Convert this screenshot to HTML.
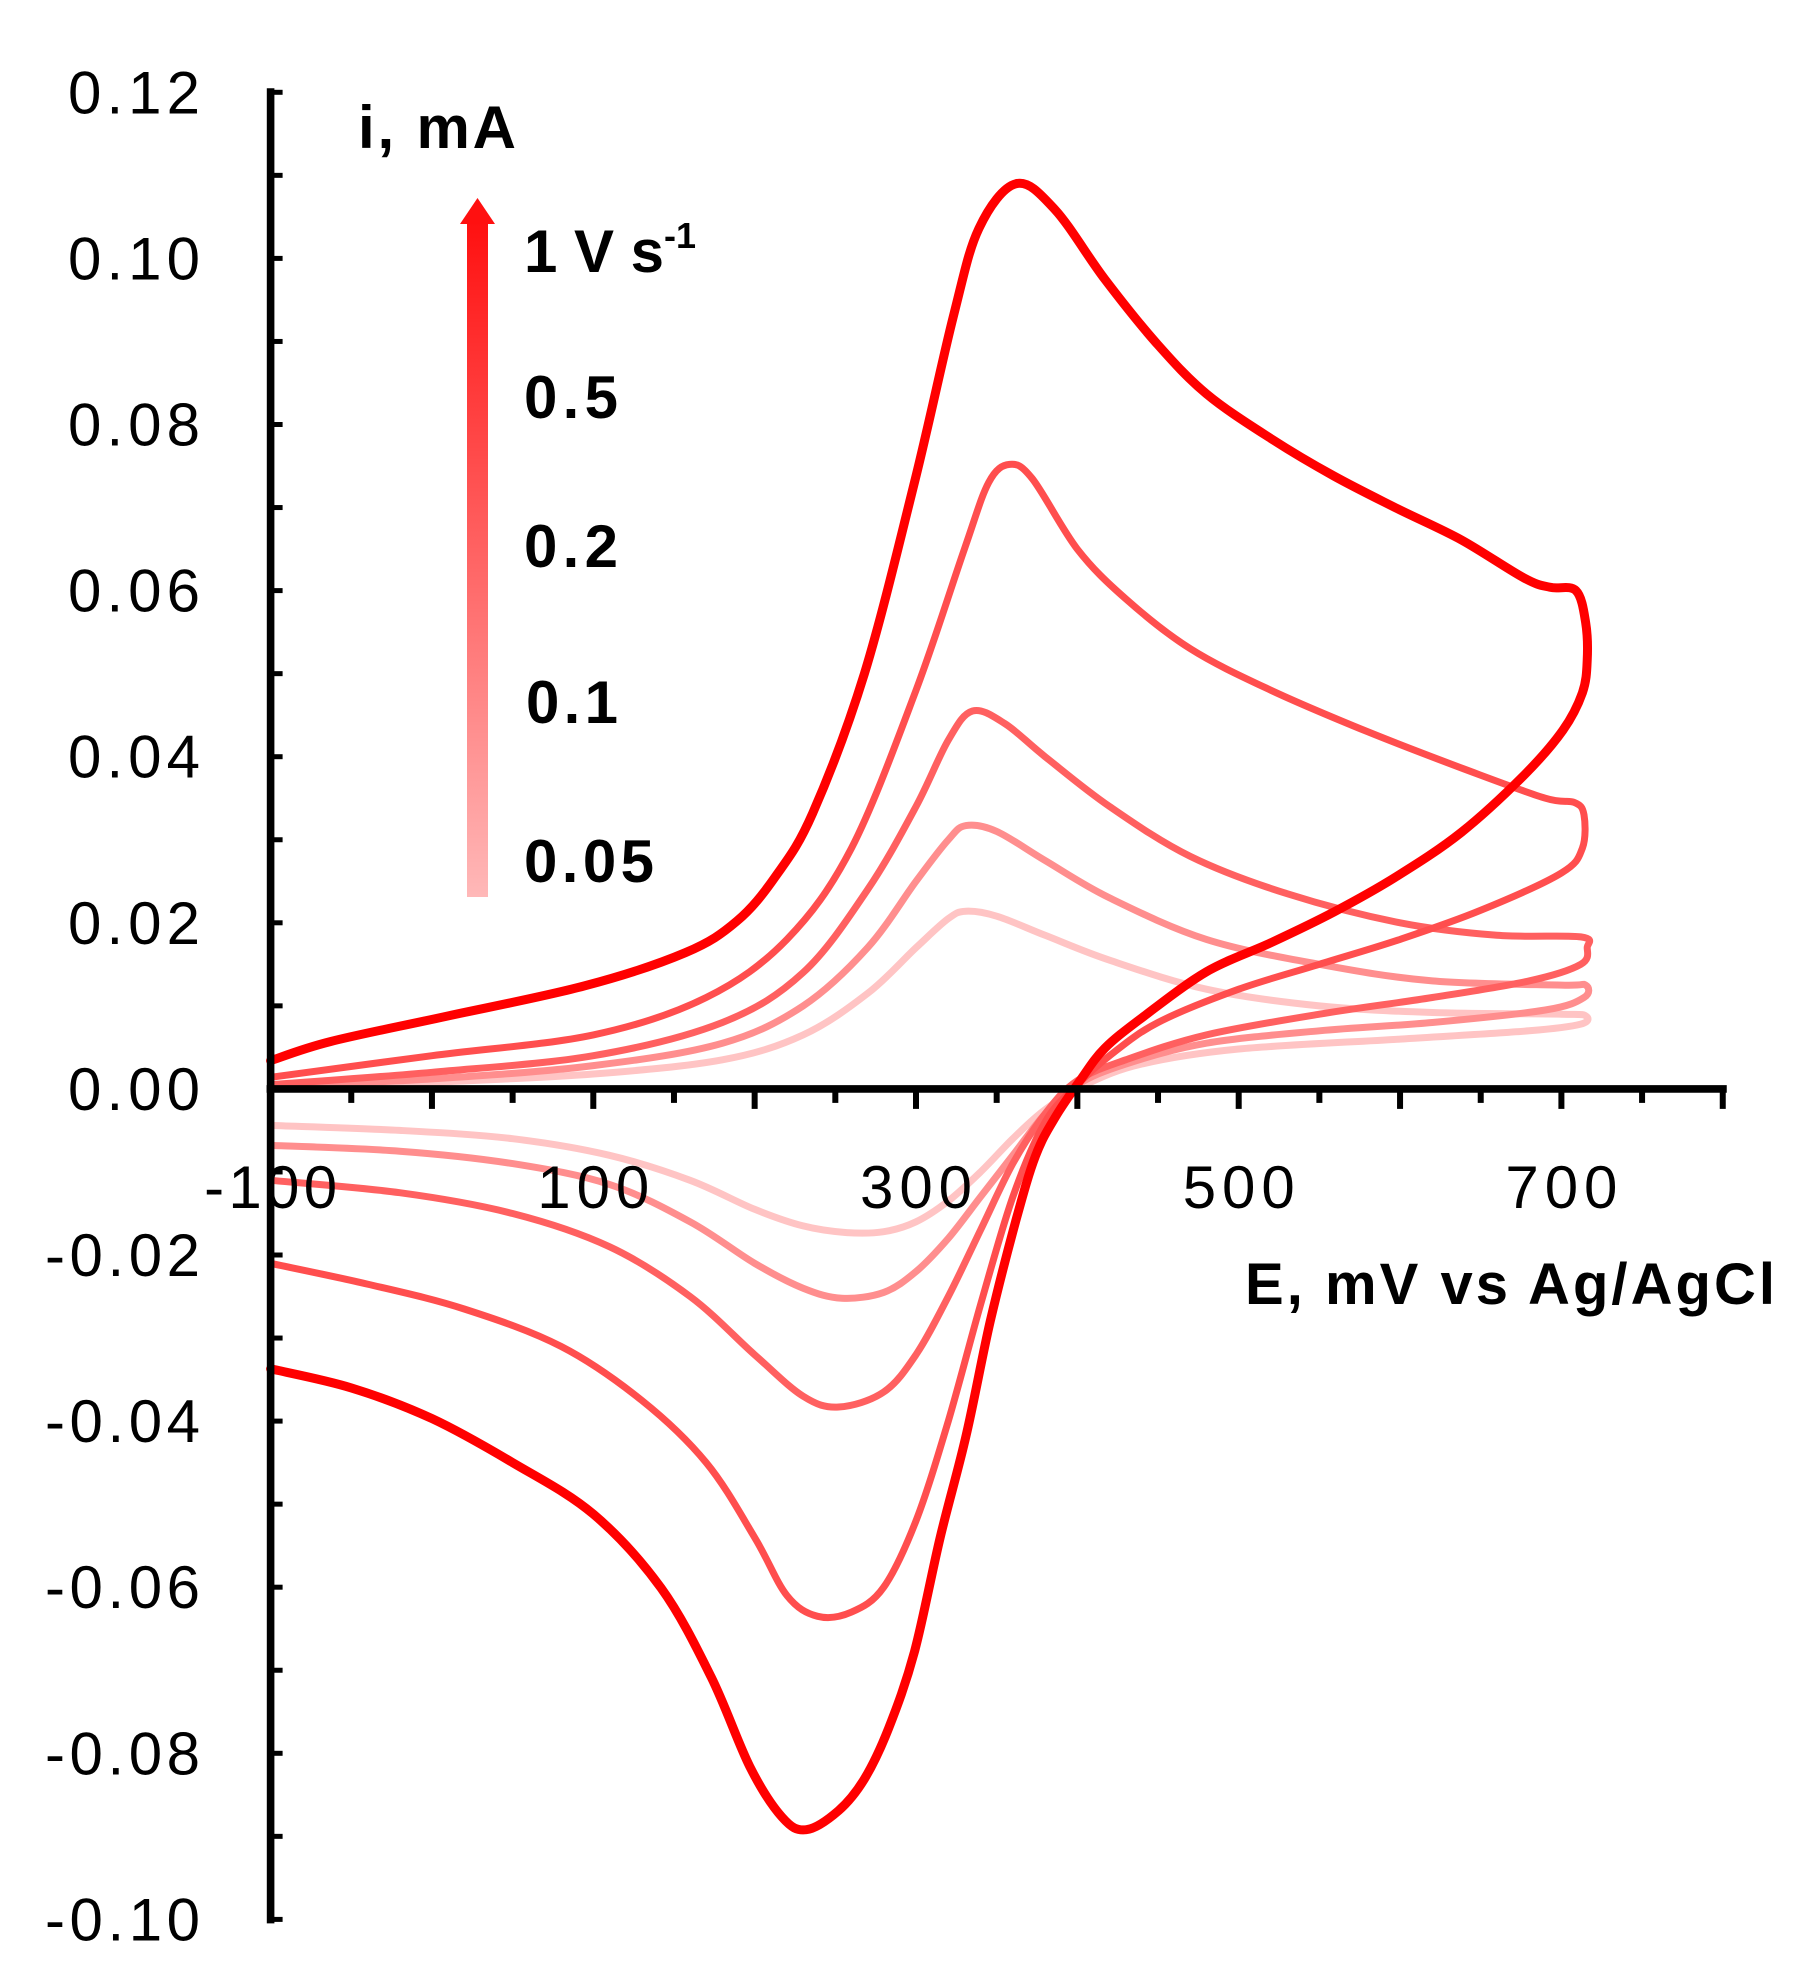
<!DOCTYPE html>
<html><head><meta charset="utf-8"><style>
html,body{margin:0;padding:0;background:#fff}
svg{display:block}
text{font-family:"Liberation Sans",sans-serif}
</style></head><body>
<svg id="chart" width="1794" height="1982" viewBox="0 0 1794 1982">
<defs>
<linearGradient id="arrowGrad" x1="0" y1="1" x2="0" y2="0">
<stop offset="0" stop-color="#ffb8b8"/><stop offset="1" stop-color="#ff1010"/>
</linearGradient>
</defs>
<g id="curves"></g>
<g id="axes"></g>
<g>
<rect x="467" y="220" width="21" height="677" fill="url(#arrowGrad)"/>
<polygon points="460,224 495,224 477.5,198" fill="#ff1010"/>
<text x="358" y="148" font-size="60" font-weight="bold" textLength="158">i, mA</text>
<text x="524" y="272" font-size="60" font-weight="bold"><tspan textLength="140">1 V s</tspan><tspan dy="-24" font-size="36">-1</tspan></text>
<text x="524" y="418" font-size="60" font-weight="bold" textLength="94">0.5</text>
<text x="524" y="567" font-size="60" font-weight="bold" textLength="94">0.2</text>
<text x="526" y="723" font-size="60" font-weight="bold" textLength="92">0.1</text>
<text x="524" y="882" font-size="60" font-weight="bold" textLength="130">0.05</text>
</g>
<text x="1245" y="1304" font-size="58" font-weight="bold" textLength="530">E, mV vs Ag/AgCl</text>
</svg>
<script>
const xTicks = [-100, 100, 300, 500, 700];
const yTicks = [0.12, 0.10, 0.08, 0.06, 0.04, 0.02, 0.00, -0.02, -0.04, -0.06, -0.08, -0.10];
const seriesNames = ["1 V/s", "0.5 V/s", "0.2 V/s", "0.1 V/s", "0.05 V/s"];
const E_1 = [-100,-63,8,94.5,157,189,213,236,268,299,323,339,362,386,417,449,480,520,559,598,638,677,693,709,715,716,713,701,677,638,598,559,520,480,441,417,402,386,374,362,346,331,315,299,283,268,252,232,217,197,173,142,100,50,0,-50,-100];
const I_1 = [0.0034,0.0057,0.0087,0.0124,0.0164,0.0202,0.0256,0.0332,0.0500,0.0730,0.0929,0.1036,0.1090,0.1059,0.0975,0.0898,0.0837,0.0783,0.0738,0.0699,0.0661,0.0615,0.0604,0.0600,0.0562,0.0516,0.0477,0.0432,0.0378,0.0309,0.0256,0.0213,0.0176,0.0141,0.0087,0.0049,0.0011,-0.0035,-0.0081,-0.0158,-0.0280,-0.0418,-0.0540,-0.0678,-0.0770,-0.0831,-0.0869,-0.0892,-0.0877,-0.0816,-0.0708,-0.0601,-0.0512,-0.0450,-0.0397,-0.0360,-0.0337];
const E_05 = [-100,0,100,170,220,260,300,330,345,358,372,400,430,470,520,580,640,690,708,714,713,700,650,600,550,500,450,420,400,380,360,340,320,300,280,260,239,220,200,170,130,80,20,-40,-100];
const I_05 = [0.0014,0.0040,0.0065,0.0110,0.0180,0.0290,0.0480,0.0650,0.0730,0.0752,0.0735,0.0650,0.0590,0.0530,0.0480,0.0430,0.0385,0.0350,0.0345,0.0330,0.0290,0.0260,0.0215,0.0180,0.0150,0.0120,0.0080,0.0040,0.0005,-0.0040,-0.0130,-0.0260,-0.0400,-0.0520,-0.0600,-0.0630,-0.0635,-0.0610,-0.0540,-0.0450,-0.0375,-0.0310,-0.0265,-0.0235,-0.0210];
const E_02 = [-100,0,100,180,230,270,300,320,335,355,380,420,470,530,600,660,712,716,712,680,620,550,480,430,400,380,360,340,320,300,280,252,230,200,160,110,50,-20,-100];
const I_02 = [0.0005,0.0020,0.0040,0.0080,0.0140,0.0240,0.0340,0.0420,0.0455,0.0440,0.0400,0.0340,0.0280,0.0235,0.0200,0.0185,0.0183,0.0170,0.0150,0.0130,0.0110,0.0090,0.0065,0.0035,0.0010,-0.0030,-0.0090,-0.0170,-0.0250,-0.0320,-0.0365,-0.0383,-0.0370,-0.0320,-0.0250,-0.0190,-0.0150,-0.0125,-0.0110];
const E_01 = [-100,0,100,180,230,270,300,320,331,350,380,420,480,550,620,700,715,714,690,620,550,480,430,400,380,360,340,320,300,280,254,230,200,160,110,50,-20,-100];
const I_01 = [0.0003,0.0012,0.0028,0.0055,0.0100,0.0170,0.0250,0.0300,0.0317,0.0310,0.0275,0.0230,0.0180,0.0150,0.0130,0.0125,0.0125,0.0110,0.0095,0.0080,0.0070,0.0055,0.0030,0.0005,-0.0030,-0.0080,-0.0130,-0.0180,-0.0220,-0.0245,-0.0252,-0.0240,-0.0210,-0.0160,-0.0115,-0.0090,-0.0075,-0.0068];
const E_005 = [-100,0,100,180,230,270,300,320,331,350,380,420,480,550,620,700,715,712,680,600,500,440,405,380,360,340,320,300,280,257,230,200,160,110,50,-20,-100];
const I_005 = [0.0002,0.0008,0.0018,0.0035,0.0065,0.0115,0.0170,0.0205,0.0214,0.0208,0.0185,0.0155,0.0120,0.0100,0.0092,0.0090,0.0088,0.0078,0.0070,0.0060,0.0048,0.0030,0.0005,-0.0025,-0.0060,-0.0100,-0.0135,-0.0160,-0.0172,-0.0173,-0.0165,-0.0145,-0.0110,-0.0080,-0.0060,-0.0050,-0.0044];

const NS = "http://www.w3.org/2000/svg";
const X0 = 270.6, XPER = 322.7/200;
const Y0 = 1088.9, YPER = 166.1/0.02;
function xs(e){ return X0 + (e + 100) * XPER; }
function ys(i){ return Y0 - i * YPER; }

const curves = document.getElementById('curves');
const sets = [
  [E_005, I_005, "#ffc4c4", 7, "curve-0.05"],
  [E_01, I_01, "#ff8e8e", 7, "curve-0.1"],
  [E_02, I_02, "#ff6060", 7, "curve-0.2"],
  [E_05, I_05, "#ff4e4e", 7, "curve-0.5"],
  [E_1, I_1, "#ff0000", 9, "curve-1"]
];
function smoothPath(pts){
  let d = "M" + pts[0][0].toFixed(1) + "," + pts[0][1].toFixed(1);
  for (let k = 0; k < pts.length - 1; k++){
    const p0 = pts[k-1] || pts[k], p1 = pts[k], p2 = pts[k+1], p3 = pts[k+2] || p2;
    const c1x = p1[0] + (p2[0]-p0[0])/6, c1y = p1[1] + (p2[1]-p0[1])/6;
    const c2x = p2[0] - (p3[0]-p1[0])/6, c2y = p2[1] - (p3[1]-p1[1])/6;
    d += " C" + c1x.toFixed(1)+","+c1y.toFixed(1)+" "+c2x.toFixed(1)+","+c2y.toFixed(1)+" "+p2[0].toFixed(1)+","+p2[1].toFixed(1);
  }
  return d;
}
sets.forEach(s => {
  const pts = s[0].map((e, k) => [xs(e), ys(s[1][k])]);
  const p = document.createElementNS(NS, 'path');
  p.setAttribute('d', smoothPath(pts));
  p.setAttribute('fill', 'none');
  p.setAttribute('stroke', s[2]);
  p.setAttribute('stroke-width', s[3]);
  p.setAttribute('stroke-linejoin', 'round');
  p.setAttribute('stroke-linecap', 'round');
  
  
  curves.appendChild(p);
});

const axes = document.getElementById('axes');
function line(x1,y1,x2,y2,w,name){
  const l = document.createElementNS(NS,'line');
  l.setAttribute('x1',x1);l.setAttribute('y1',y1);l.setAttribute('x2',x2);l.setAttribute('y2',y2);
  l.setAttribute('stroke','#000');l.setAttribute('stroke-width',w);
  
  
  axes.appendChild(l);
}
function text(x,y,str,anchor,len,name){
  const t = document.createElementNS(NS,'text');
  t.setAttribute('x',x);t.setAttribute('y',y);t.setAttribute('font-size','60');
  t.setAttribute('text-anchor',anchor);t.setAttribute('fill','#000');
  t.setAttribute('textLength',len);
  t.textContent = str;
  
  
  axes.appendChild(t);
}
line(X0, ys(0.12)-4, X0, ys(-0.10)+4, 7.6, 'y-axis-line');
line(X0-4, Y0, xs(800)+4, Y0, 7.6, 'x-axis-line');
for (let v = -0.10; v <= 0.1201; v += 0.01){
  const y = ys(v);
  line(X0, y, X0+12, y, 5, 'y-minor-tick');
}
yTicks.forEach(v => {
  const s = v.toFixed(2);
  text(200, ys(v)+21, s, 'end', s.length === 5 ? 155 : 132, 'y-tick-label');
});
for (let e = -50; e <= 800; e += 50){
  line(xs(e), Y0, xs(e), Y0 + (e % 100 === 0 ? 20 : 14), 6, 'x-tick');
}
xTicks.forEach(e => {
  const s = String(e);
  text(xs(e), 1208, s, 'middle', s.length === 4 ? 133 : 112, 'x-tick-label');
});
</script>
</body></html>
